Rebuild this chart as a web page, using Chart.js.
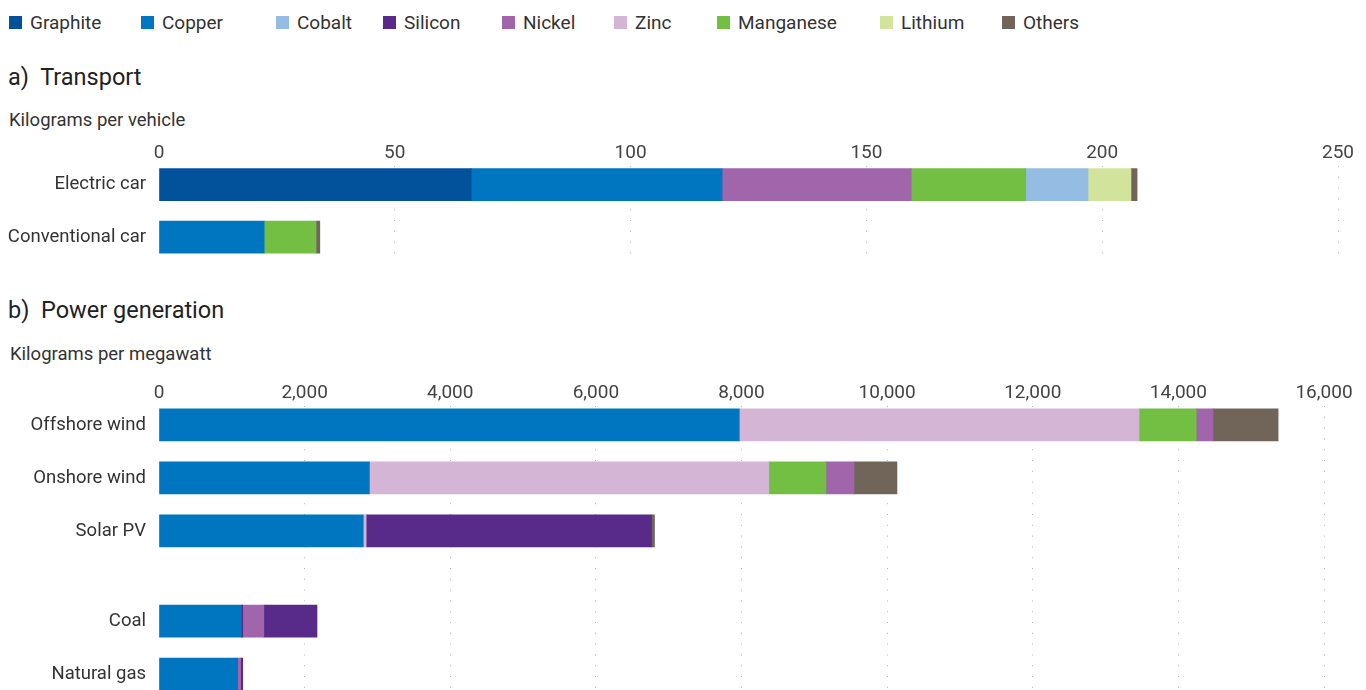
<!DOCTYPE html>
<html>
<head>
<meta charset="utf-8">
<script src="https://cdn.jsdelivr.net/npm/chart.js@4.4.1/dist/chart.umd.min.js"></script>
<style>
  html, body { margin: 0; padding: 0; background: #fff; }
  body { width: 1366px; height: 690px; position: relative; overflow: hidden; font-family: Roboto, "Noto Sans", sans-serif; color: #333; }
  .abs { position: absolute; }
  .legend-item { position: absolute; top: 11px; height: 22px; display: flex; align-items: center; font-size: 19px; color: #333; white-space: nowrap; }
  .legend-item i { display: inline-block; width: 13px; height: 13px; margin-right: 8px; }
  .title { font-size: 23.5px; color: #222; white-space: pre; line-height: 28px; }
  .unit { font-size: 18.5px; color: #333; line-height: 22px; }
  canvas { position: absolute; left: 0; }
</style>
</head>
<body>
<div id="legend"></div>
<div class="abs title" style="left:8px; top:63px;">a)  Transport</div>
<div class="abs unit" style="left:9px; top:109px;">Kilograms per vehicle</div>
<div class="abs title" style="left:8px; top:296px;">b)  Power generation</div>
<div class="abs unit" style="left:10px; top:343px;">Kilograms per megawatt</div>
<div style="position:absolute; left:0; top:138px; width:1366px; height:117px;"><canvas id="transport"></canvas></div>
<div style="position:absolute; left:0; top:378px; width:1366px; height:312px;"><canvas id="power"></canvas></div>
<script>
// ─── Legend ───
const legendNames  = ['Graphite', 'Copper', 'Cobalt', 'Silicon', 'Nickel', 'Zinc', 'Manganese', 'Lithium', 'Others'];
const legendLeft   = [9, 141, 276, 383, 502, 614, 717, 880, 1002];

const COLORS = {
  Graphite:  '#02529b',
  Copper:    '#0076c0',
  Cobalt:    '#95bde4',
  Silicon:   '#582a8a',
  Nickel:    '#a065aa',
  Zinc:      '#d4b5d6',
  Manganese: '#72bf44',
  Lithium:   '#d2e49c',
  Others:    '#716559',
};

// ─── a) Transport, kg per vehicle ───
const transportCategories = ['Electric car', 'Conventional car'];
const transportGraphite  = [66.2, null];
const transportCopper    = [53.2, 22.3];
const transportNickel    = [40.1, null];
const transportManganese = [24.3, 11.0];
const transportCobalt    = [13.2, null];
const transportLithium   = [9.1, null];
const transportOthers    = [1.3, 0.8];
const transportTicks     = [0, 50, 100, 150, 200, 250];

// ─── b) Power generation, kg per MW ───
const powerCategories = ['Offshore wind', 'Onshore wind', 'Solar PV', 'Coal', 'Natural gas'];
const powerCopper     = [7970, 2890, 2805, 1130, 1080];
const powerSiliconA   = [null, null, null, 20, null];   // thin sliver right after copper
const powerZinc       = [5490, 5485, 40, null, null];
const powerManganese  = [785, 785, null, null, null];
const powerNickel     = [230, 385, null, 290, 40];
const powerSiliconB   = [null, null, 3920, 730, 30];
const powerOthers     = [895, 590, 40, null, null];
const powerTicks      = [0, 2000, 4000, 6000, 8000, 10000, 12000, 14000, 16000];

// row slots on the index axis (gap between renewables and fossil)
const transportSlots = [0, 1];
const powerSlots     = [0, 1, 2, 3.7, 4.7];

// build legend
const legendEl = document.getElementById('legend');
legendNames.forEach((name, i) => {
  const d = document.createElement('div');
  d.className = 'legend-item';
  d.style.left = legendLeft[i] + 'px';
  d.innerHTML = `<i style="background:${COLORS[name]}"></i>${name}`;
  legendEl.appendChild(d);
});

function ds(name, values, slots) {
  return {
    label: name,
    data: values.map((v, i) => ({ y: slots[i], x: v })),
    backgroundColor: COLORS[name],
    borderWidth: 0,
    barThickness: 32,
  };
}

function makeChart(id, datasets, categories, slots, ticks, yMin, yMax, rightPad) {
  return new Chart(document.getElementById(id), {
    type: 'bar',
    data: { datasets },
    options: {
      indexAxis: 'y',
      responsive: true,
      maintainAspectRatio: false,
      animation: false,
      layout: { padding: { left: 0, right: rightPad, top: 3, bottom: 0 } },
      plugins: { legend: { display: false }, tooltip: { enabled: false } },
      scales: {
        x: {
          type: 'linear',
          position: 'top',
          stacked: true,
          min: ticks[0],
          max: ticks[ticks.length - 1],
          afterBuildTicks: s => { s.ticks = ticks.map(v => ({ value: v })); },
          ticks: {
            font: { family: 'Roboto', size: 19 },
            color: '#444',
            padding: 1,
            maxRotation: 0,
            callback: v => v.toLocaleString('en-US'),
          },
          grid: {
            drawTicks: false,
            color: c => (c.tick && c.tick.value === 0 ? 'rgba(0,0,0,0)' : '#b5b5b5'),
            lineWidth: 1,
          },
          border: { display: false, dash: [1, 9.8] },
        },
        y: {
          type: 'linear',
          reverse: true,
          offset: false,
          stacked: true,
          min: yMin,
          max: yMax,
          afterBuildTicks: s => { s.ticks = slots.map(v => ({ value: v })); },
          afterFit: s => { s.width = 159; s.paddingTop = 0; s.paddingBottom = 0; },
          ticks: {
            font: { family: 'Roboto', size: 18.5 },
            color: '#333',
            padding: 13,
            autoSkip: false,
            callback: (v, i) => categories[i],
          },
          grid: { display: false, drawTicks: false },
          border: { display: false },
        },
      },
    },
  });
}

makeChart('transport', [
  ds('Graphite',  transportGraphite,  transportSlots),
  ds('Copper',    transportCopper,    transportSlots),
  ds('Nickel',    transportNickel,    transportSlots),
  ds('Manganese', transportManganese, transportSlots),
  ds('Cobalt',    transportCobalt,    transportSlots),
  ds('Lithium',   transportLithium,   transportSlots),
  ds('Others',    transportOthers,    transportSlots),
], transportCategories, transportSlots, transportTicks, -0.36, 1.34, 28);

makeChart('power', [
  ds('Copper',    powerCopper,    powerSlots),
  ds('Silicon',   powerSiliconA,  powerSlots),
  ds('Zinc',      powerZinc,      powerSlots),
  ds('Manganese', powerManganese, powerSlots),
  ds('Nickel',    powerNickel,    powerSlots),
  ds('Silicon',   powerSiliconB,  powerSlots),
  ds('Others',    powerOthers,    powerSlots),
], powerCategories, powerSlots, powerTicks, -0.36, 5.0, 42);
</script>
</body>
</html>
